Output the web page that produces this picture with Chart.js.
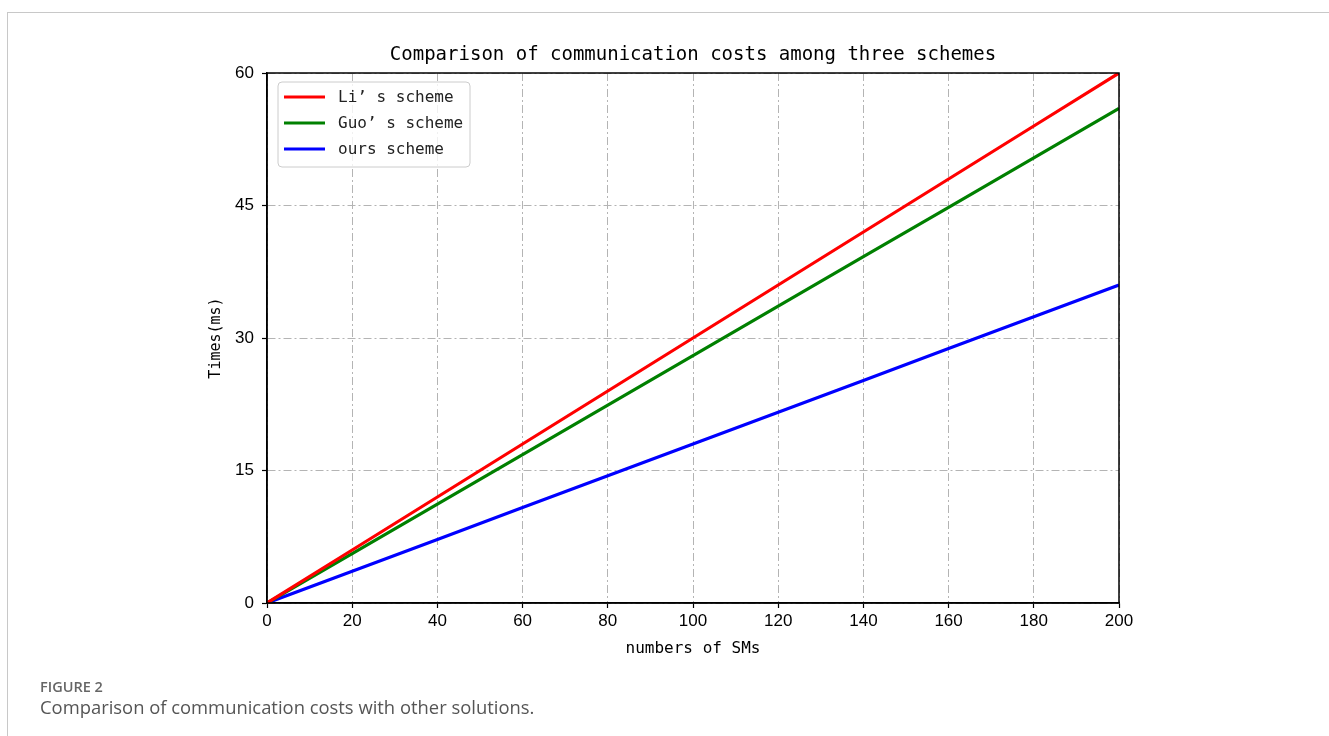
<!DOCTYPE html>
<html>
<head>
<meta charset="utf-8">
<script src="https://cdn.jsdelivr.net/npm/chart.js@4.4.1/dist/chart.umd.min.js"></script>
<style>
  html, body { margin: 0; padding: 0; background: #fff; }
  body { width: 1329px; height: 736px; position: relative; overflow: hidden; }
  .frame {
    position: absolute; left: 7px; top: 12px; right: 0; bottom: 0;
    border-top: 1px solid #c8c8c8; border-left: 1px solid #c8c8c8;
  }
  #chart { position: absolute; left: 0; top: 0; }
  .cap-label {
    position: absolute; left: 40px; top: 680px;
    font: 600 14.5px/1 "Open Sans", sans-serif; color: #666;
  }
  .cap-text {
    position: absolute; left: 40px; top: 698px;
    font: 400 18.4px/1 "Open Sans", sans-serif; color: #555;
  }
</style>
</head>
<body>
<div class="frame"></div>
<canvas id="chart" width="1329" height="736"></canvas>
<div class="cap-label">FIGURE 2</div>
<div class="cap-text">Comparison of communication costs with other solutions.</div>
<script>
// numbers of SMs
const smCounts = [0, 20, 40, 60, 80, 100, 120, 140, 160, 180, 200];
// times (ms)
const liTimes   = [0, 6, 12, 18, 24, 30, 36, 42, 48, 54, 60];
const guoTimes  = [0, 5.6, 11.2, 16.8, 22.4, 28, 33.6, 39.2, 44.8, 50.4, 56];
const oursTimes = [0, 3.6, 7.2, 10.8, 14.4, 18, 21.6, 25.2, 28.8, 32.4, 36];

const seriesNames = ['Li’ s scheme', 'Guo’ s scheme', 'ours scheme'];
const titleText = 'Comparison of communication costs among three schemes';

const monoFont = '"DejaVu Sans Mono", "Liberation Mono", monospace';
const tickFont = { family: '"Liberation Sans", Arial, sans-serif', size: 17 };

function toPoints(ys) {
    return smCounts.map((x, i) => ({ x: x, y: ys[i] }));
}

// frame on all four sides, title above, legend in the top-left corner
const frameAndLegend = {
    id: 'frameAndLegend',
    afterDraw(chart) {
        const { ctx, chartArea: a } = chart;
        ctx.save();
        ctx.strokeStyle = '#000';
        ctx.lineWidth = 1.5;
        ctx.strokeRect(a.left, a.top, a.right - a.left, a.bottom - a.top);

        ctx.fillStyle = '#000';
        ctx.font = '19px ' + monoFont;
        ctx.textAlign = 'center';
        ctx.textBaseline = 'middle';
        ctx.fillText(titleText, (a.left + a.right) / 2, a.top - 18);

        // legend box
        const bx = a.left + 11, by = a.top + 9, bw = 192, bh = 85, r = 4;
        ctx.beginPath();
        ctx.roundRect(bx, by, bw, bh, r);
        ctx.fillStyle = 'rgba(255,255,255,0.8)';
        ctx.fill();
        ctx.strokeStyle = '#cccccc';
        ctx.lineWidth = 1;
        ctx.stroke();

        ctx.font = '16px ' + monoFont;
        ctx.textAlign = 'left';
        chart.data.datasets.forEach((ds, i) => {
            const y = a.top + 24 + i * 26;
            ctx.strokeStyle = ds.borderColor;
            ctx.lineWidth = 3;
            ctx.beginPath();
            ctx.moveTo(a.left + 17, y);
            ctx.lineTo(a.left + 58, y);
            ctx.stroke();
            ctx.fillStyle = '#222';
            ctx.fillText(ds.label, a.left + 71, y + 1);
        });
        ctx.restore();
    }
};

const gridOpts = {
    color: '#b4b4b4',
    lineWidth: 1,
    tickColor: '#000',
    tickLength: 5,
    tickWidth: 1.2,
    tickBorderDash: []
};
const borderOpts = { color: '#000', width: 1.5, dash: [8, 3, 2, 3] };

new Chart(document.getElementById('chart'), {
    type: 'line',
    data: {
        datasets: [
            { label: seriesNames[0], data: toPoints(liTimes),   borderColor: '#ff0000' },
            { label: seriesNames[1], data: toPoints(guoTimes),  borderColor: '#008000' },
            { label: seriesNames[2], data: toPoints(oursTimes), borderColor: '#0000ff' }
        ].map(d => Object.assign(d, { borderWidth: 3.2, pointRadius: 0, tension: 0, fill: false }))
    },
    options: {
        responsive: false,
        animation: false,
        layout: { padding: { left: 207, right: 210, top: 73, bottom: 73 } },
        plugins: {
            legend: { display: false },
            title: { display: false },
            tooltip: { enabled: false }
        },
        scales: {
            x: {
                type: 'linear',
                min: 0, max: 200,
                ticks: { stepSize: 20, color: '#000', font: tickFont, padding: 3, maxRotation: 0 },
                grid: gridOpts,
                border: borderOpts,
                title: { display: true, text: 'numbers of SMs', color: '#000',
                         font: { family: monoFont, size: 16 }, padding: { top: 0, bottom: 5 } },
                afterFit(scale) { scale.height = 60; }
            },
            y: {
                min: 0, max: 60,
                ticks: { stepSize: 15, color: '#000', font: tickFont, padding: 8 },
                grid: gridOpts,
                border: borderOpts,
                title: { display: true, text: 'Times(ms)', color: '#000',
                         font: { family: monoFont, size: 15 }, padding: 0 },
                afterFit(scale) { scale.width = 60; }
            }
        }
    },
    plugins: [frameAndLegend]
});
</script>
</body>
</html>
